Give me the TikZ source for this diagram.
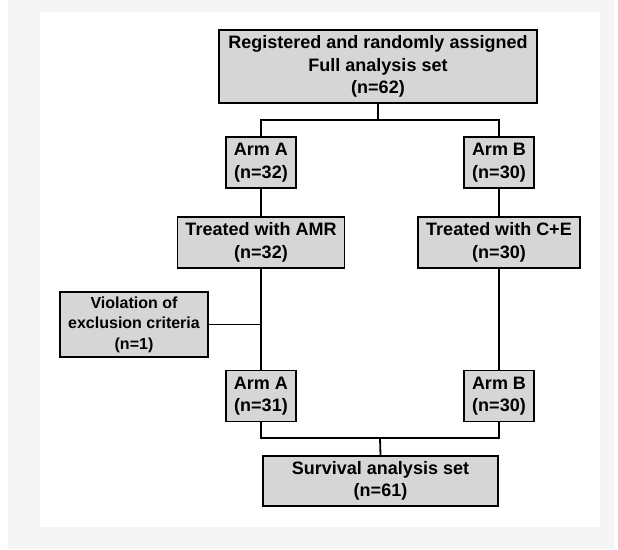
\documentclass[tikz,border=0pt]{standalone}
\usepackage{fontspec}
\setmainfont{Liberation Sans}
\tikzset{
  box/.style={draw=black,fill=black!16,line width=1.2pt,align=center,inner sep=2pt,
    font=\fontsize{18}{22.5}\selectfont\bfseries},
  smallbox/.style={box,font=\fontsize{16}{20.5}\selectfont\bfseries},
  link/.style={line width=1.8pt}
}
\begin{document}
\begin{tikzpicture}[x=1pt,y=-1pt]
\useasboundingbox (0,0) rectangle (618,549);
\fill[white] (0,0) rectangle (618,549);
\fill[black!4,even odd rule] (8,0) rectangle (614,549) (40,12) rectangle (600,527);

\coordinate (split) at (378,120);
\coordinate (join) at (380,438);

\node[box,minimum width=318pt,minimum height=73pt] (full) at (378,66.5) {Registered and randomly assigned\\Full analysis set\\(n=62)};

\node[box,minimum width=70pt,minimum height=51pt] (armA1) at (261,162.5) {Arm A\\(n=32)};
\node[box,minimum width=70pt,minimum height=51pt] (armB1) at (499,162.5) {Arm B\\(n=30)};

\node[box,minimum width=167pt,minimum height=51pt] (trtA) at (261,242.5) {Treated with AMR\\(n=32)};
\node[box,minimum width=162pt,minimum height=51pt] (trtB) at (499,242.5) {Treated with C+E\\(n=30)};

\node[smallbox,minimum width=148pt,minimum height=65pt] (viol) at (134,324.5) {Violation of\\exclusion criteria\\(n=1)};

\node[box,minimum width=70pt,minimum height=51pt] (armA2) at (261,396) {Arm A\\(n=31)};
\node[box,minimum width=70pt,minimum height=51pt] (armB2) at (499,396) {Arm B\\(n=30)};

\node[box,minimum width=235pt,minimum height=50pt] (surv) at (380.5,481) {Survival analysis set\\(n=61)};

% split into arms
\draw[link] (full.south) -- (split);
\draw[link] (armA1.north) |- (split) -| (armB1.north);
\draw[link] (armA1) -- (trtA);
\draw[link] (armB1) -- (trtB);
\draw[link] (trtA) -- (armA2);
\draw[link] (trtB) -- (armB2);
\draw[link] (viol.east) -- (viol.east -| trtA);

% merge
\draw[link] (armA2.south) |- (join) -| (armB2.south);
\draw[link] (join) -- (surv.north);
\end{tikzpicture}
\end{document}
